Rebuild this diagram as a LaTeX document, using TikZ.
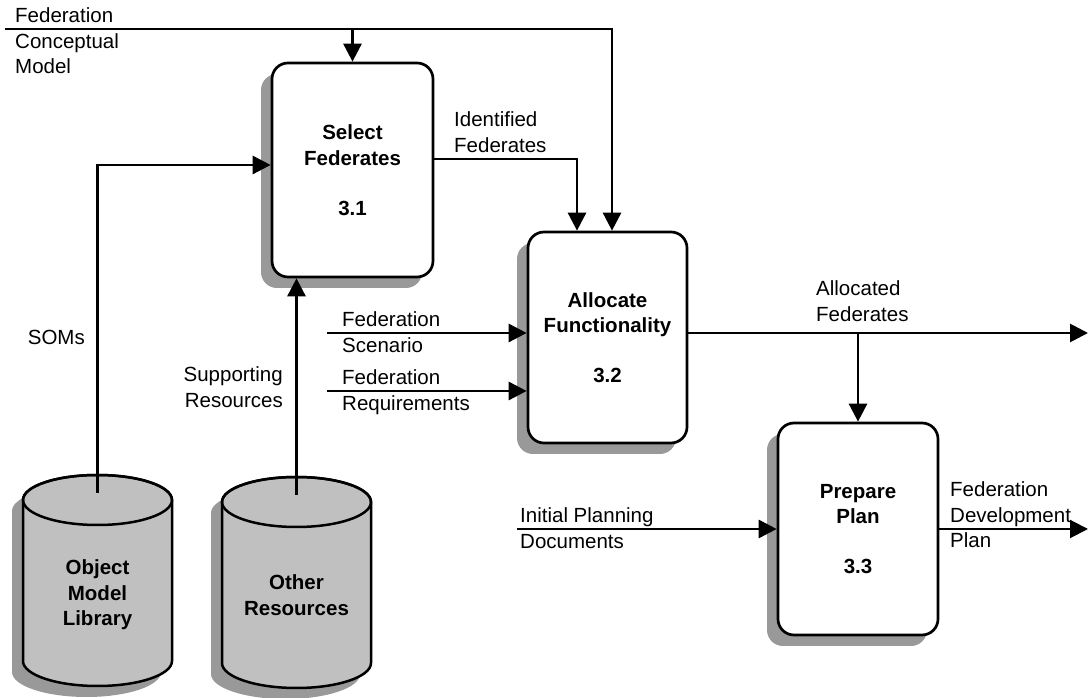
\documentclass[tikz,border=0pt]{standalone}
\usepackage{fontspec}
\setmainfont{Liberation Sans}
\usetikzlibrary{arrows.meta,shadows}

\definecolor{shadowgray}{HTML}{999999}
\definecolor{dbgray}{HTML}{C0C0C0}

% data store drawn as a cylinder with a drop shadow:
% #1 centre x, #2 centre y of the top ellipse, #3 centre y of the bottom ellipse
\newcommand\dbstore[3]{%
  \fill[shadowgray,shift={(-11,-11)}]
    (#1-74.5,#2) -- (#1-74.5,#3)
    arc[start angle=180,end angle=360,x radius=74.5,y radius=25]
    -- (#1+74.5,#2)
    arc[start angle=0,end angle=180,x radius=74.5,y radius=25] -- cycle;
  \filldraw[fill=dbgray,line width=2.5pt]
    (#1-74.5,#2) -- (#1-74.5,#3)
    arc[start angle=180,end angle=360,x radius=74.5,y radius=25]
    -- (#1+74.5,#2)
    arc[start angle=0,end angle=180,x radius=74.5,y radius=25] -- cycle;
  \draw[line width=2.5pt] (#1,#2) ellipse[x radius=74.5,y radius=25];
}

\begin{document}
\begin{tikzpicture}[x=1pt,y=1pt,
  every node/.style={font=\fontsize{20.5}{25.5}\selectfont,inner sep=0pt},
  lbl/.style={align=left,anchor=base west},
  proc/.style={draw,line width=2.7pt,rounded corners=16pt,fill=white,
    align=center,font=\fontsize{20.5}{25.5}\selectfont\bfseries,
    general shadow={fill=shadowgray,shadow xshift=-11pt,shadow yshift=-11pt}},
  flow/.style={line width=2.8pt,-{Triangle[length=18pt,width=18pt]}},
  storelbl/.style={align=center,anchor=base,font=\fontsize{20.5}{25.5}\selectfont\bfseries}
]
\useasboundingbox (0,0) rectangle (1089,698);

% processes
\node[proc,minimum width=161pt,minimum height=214pt] (box31) at (352.5,528)
  {Select\\Federates\\[24.5pt]3.1};
\node[proc,minimum width=159pt,minimum height=211pt] (box32) at (607.5,360.5)
  {Allocate\\Functionality\\[24.5pt]3.2};
\node[proc,minimum width=160pt,minimum height=212pt] (box33) at (858,169)
  {Prepare\\Plan\\[24.5pt]3.3};

% data stores (label positions are last-line baselines)
\dbstore{97.5}{198}{37}
\dbstore{296.5}{196}{35}
\node[storelbl] (oml) at (97.5,72) {Object\\Model\\Library};
\node[storelbl] (other) at (296.5,82.5) {Other\\Resources};
\coordinate (omltop) at (97.5,205);
\coordinate (ortop) at (296.5,203);

% connectors
\coordinate (fcmsrc) at (5,669);
\coordinate (fcmbend) at (612,669);
\draw[flow] (fcmsrc) -- (fcmbend) -- (fcmbend |- box32.north);
\draw[flow] (box31.north |- fcmsrc) -- (box31.north);
\draw[flow] (omltop) |- ([yshift=5pt]box31.west);
\draw[flow] (ortop) -- (ortop |- box31.south);
\draw[flow] ([yshift=11pt]box31.east) -| ([xshift=-30.5pt]box32.north);

\coordinate (scen) at (327,365);
\coordinate (reqs) at (327,307);
\draw[flow] (scen) -- (scen -| box32.west);
\draw[flow] (reqs) -- (reqs -| box32.west);

\coordinate (allocout) at (1088,365);
\draw[flow] ([yshift=4.5pt]box32.east) -- (allocout);
\draw[flow] (box33.north |- allocout) -- (box33.north);

\coordinate (ipd) at (517,169);
\draw[flow] (ipd) -- (box33.west);
\coordinate (fdp) at (1088,169);
\draw[flow,line width=2pt] (box33.east) -- (fdp);

% flow labels (positions are last-line baselines)
\node[lbl] (fcmlbl) at (15,624) {Federation\\Conceptual\\Model};
\node[lbl] (idlbl) at (454,545.5) {Identified\\Federates};
\node[anchor=base east] (somlbl) at (85,353) {SOMs};
\node[align=right,anchor=base east] (suplbl) at (283,290.5) {Supporting\\Resources};
\node[lbl] (scenlbl) at (342,345.5) {Federation\\Scenario};
\node[lbl] (reqlbl) at (342,287.5) {Federation\\Requirements};
\node[lbl] (alloclbl) at (816,376.5) {Allocated\\Federates};
\node[lbl] (ipdlbl) at (520,149.5) {Initial Planning\\Documents};
\node[lbl] (fdplbl) at (950,150) {Federation\\Development\\Plan};
\end{tikzpicture}
\end{document}
